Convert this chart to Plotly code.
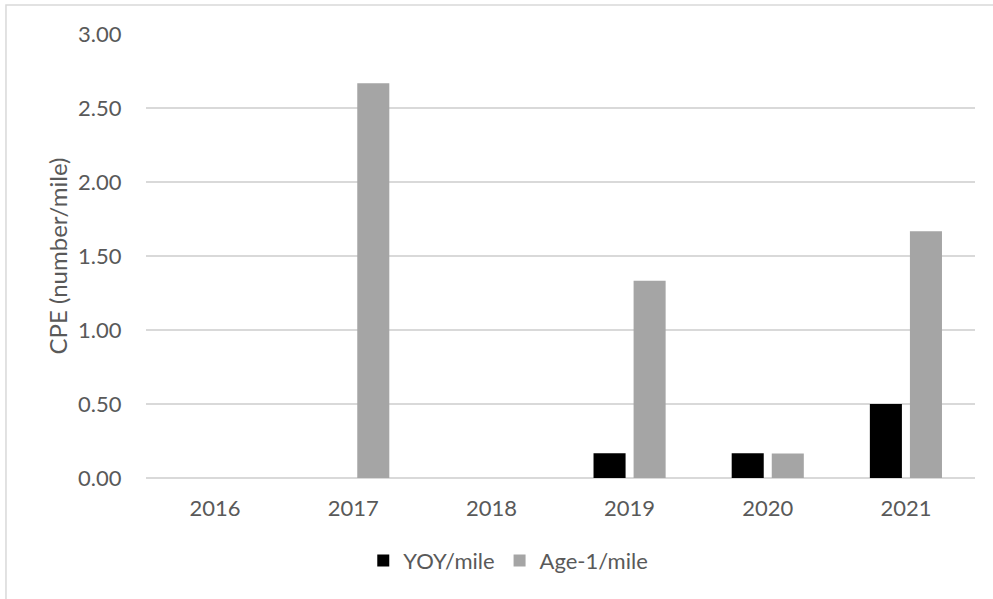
import plotly.graph_objects as go

years = ["2016", "2017", "2018", "2019", "2020", "2021"]
yoy_per_mile = [0, 0, 0, 0.167, 0.167, 0.5]
age1_per_mile = [0, 2.667, 0, 1.333, 0.165, 1.667]

TEXT = "#595959"
GRID = "#d9d9d9"
FONT = "Lato, 'Open Sans', sans-serif"

fig = go.Figure()
fig.add_trace(go.Bar(x=years, y=yoy_per_mile, name="YOY/mile",
                     marker=dict(color="#000000", line=dict(width=0))))
fig.add_trace(go.Bar(x=years, y=age1_per_mile, name="Age-1/mile",
                     marker=dict(color="#a5a5a5", line=dict(width=0))))

# light frame around the chart area, as in the source image
fig.add_shape(type="rect", xref="paper", yref="paper",
              x0=-0.1689, x1=1.2, y0=-0.4, y1=1.0653,
              line=dict(color=GRID, width=1.5), fillcolor="rgba(0,0,0,0)", layer="below")

fig.update_layout(
    width=993, height=599,
    margin=dict(l=146, r=18, t=34, b=121, autoexpand=False),
    paper_bgcolor="white", plot_bgcolor="white",
    font=dict(family=FONT, size=22, color=TEXT),
    barmode="group", bargap=0.42, bargroupgap=0.2,
    showlegend=True,
    legend=dict(orientation="h", x=0.437, xanchor="center", y=-0.139, yanchor="top",
                font=dict(size=22, color=TEXT)),
    xaxis=dict(showgrid=False, showline=False, ticks="outside", ticklen=11,
               tickcolor="rgba(0,0,0,0)", tickfont=dict(size=22, color=TEXT),
               automargin=False),
    yaxis=dict(range=[0, 3], dtick=0.5, tickformat=".2f", showgrid=True,
               gridcolor=GRID, gridwidth=1.5, zeroline=True, zerolinecolor=GRID,
               zerolinewidth=1.5, ticks="outside", ticklen=19,
               tickcolor="rgba(0,0,0,0)", tickfont=dict(size=22, color=TEXT),
               title=dict(text="CPE (number/mile)", font=dict(size=24, color=TEXT), standoff=3),
               automargin=False),
)

# drop the page's default body margin so the figure sits at the window origin
fig.write_html("out.html", config={"displayModeBar": False},
               post_script="document.body.style.margin='0px';")
